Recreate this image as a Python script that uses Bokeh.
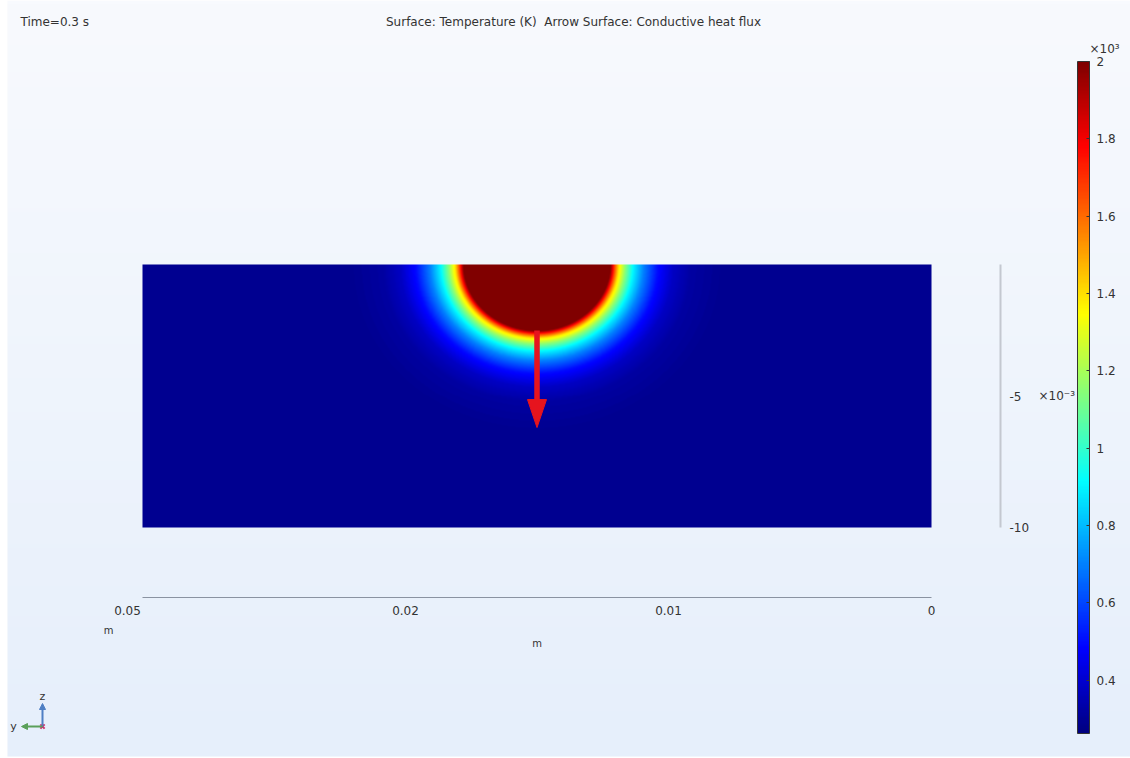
import numpy as np
from bokeh.plotting import figure
from bokeh.models import (Range1d, LinearColorMapper, ColorBar, FixedTicker,
                          CustomJSTickFormatter, Arrow, NormalHead)
from bokeh.core.properties import value
from bokeh.embed import file_html
from bokeh.resources import INLINE

# ---------------- data ----------------
time_label = "Time=0.3 s"
title_label = "Surface: Temperature (K)  Arrow Surface: Conductive heat flux"

domain_y = [0.0, 0.03]          # m (horizontal extent, y axis points left)
domain_z = [-0.01, 0.0]         # m (depth)

xtick_values = [0.03, 0.02, 0.01, 0.0]
xtick_labels = ["0.05", "0.02", "0.01", "0"]
ztick_values = [-0.005, -0.01]
ztick_labels = ["-5", "-10"]

cbar_ticks = [400, 600, 800, 1000, 1200, 1400, 1600, 1800, 2000]
cbar_labels = ["0.4", "0.6", "0.8", "1", "1.2", "1.4", "1.6", "1.8", "2"]
temp_min = 262.0
temp_max = 2000.0

# heat source (melt pool) at top surface
source_y = 0.015
source_a = 0.00281     # horizontal semi-axis of the >= 2000 K zone
source_b = 0.00251     # depth of the >= 2000 K zone
# temperature vs. normalised elliptic distance from the source centre
profile_r = [0.0, 1.0, 1.05, 1.11, 1.2, 1.31, 1.45, 1.64, 1.85, 2.1, 2.5, 3.2]
profile_T = [2600, 2000, 1700, 1400, 1150, 900, 700, 500, 380, 320, 295, 290]

# conductive heat flux arrow
arrow_y = [0.015]
arrow_z0 = [-0.00251]
arrow_z1 = [-0.0062]

# ---------------- layout helpers ----------------
W, H = 1130, 758
S = 789 / 0.03            # px per metre (equal aspect)
PX0, PY0 = 142, 264       # screen position of (y=0.03, z=0)


def mx(px):
    return domain_y[1] - (px - PX0) / S


def mz(py):
    return -(py - PY0) / S


p = figure(width=W, height=H, output_backend="svg", toolbar_location=None,
           x_range=Range1d(mx(0), mx(W)), y_range=Range1d(mz(H), mz(0)),
           x_axis_location=None, y_axis_location=None, min_border=0,
           background_fill_color="white", border_fill_color="white",
           outline_line_color=None)
p.xgrid.visible = False
p.ygrid.visible = False

# background gradient
n = 200
bg = np.empty((n, 1), dtype=np.uint32)
v = bg.view(dtype=np.uint8).reshape((n, 1, 4))
top = np.array([248, 250, 254])
bot = np.array([230, 239, 251])
t = np.linspace(0, 1, n)[:, None]
col = bot * (1 - t) + top * t
v[:, 0, 0] = col[:, 0]
v[:, 0, 1] = col[:, 1]
v[:, 0, 2] = col[:, 2]
v[:, 0, 3] = 255
p.image_rgba(image=[bg], x=mx(W), y=mz(756), dw=mx(7) - mx(W), dh=mz(0) - mz(756))

# jet palette
tt = np.linspace(0, 1, 256)
r = np.clip(1.5 - np.abs(4 * tt - 3), 0, 1)
g = np.clip(1.5 - np.abs(4 * tt - 2), 0, 1)
b = np.clip(1.5 - np.abs(4 * tt - 1), 0, 1)
jet = ["#%02x%02x%02x" % (int(round(a * 255)), int(round(c * 255)), int(round(d * 255)))
       for a, c, d in zip(r, g, b)]
mapper = LinearColorMapper(palette=jet, low=temp_min, high=temp_max)

# temperature field
nx, nz = 790, 264
yy = domain_y[0] + (np.arange(nx) + 0.5) / nx * (domain_y[1] - domain_y[0])
zz = domain_z[0] + (np.arange(nz) + 0.5) / nz * (domain_z[1] - domain_z[0])
Y, Z = np.meshgrid(yy, zz)
R = np.sqrt(((Y - source_y) / source_a) ** 2 + (Z / source_b) ** 2)
T = np.interp(R, profile_r, profile_T)
p.image(image=[T], x=domain_y[0], y=domain_z[0], dw=domain_y[1] - domain_y[0],
        dh=domain_z[1] - domain_z[0], color_mapper=mapper)

# heat flux arrow
head_len = 28 / S
head_hw = 9.5 / S
red = "#e6141e"
p.segment(x0=arrow_y, y0=arrow_z0, x1=arrow_y,
          y1=[z + head_len * 0.9 for z in arrow_z1], line_color=red, line_width=5.5)
p.patches(xs=[[y - head_hw, y + head_hw, y] for y in arrow_y],
          ys=[[z + head_len, z + head_len, z] for z in arrow_z1],
          fill_color=red, line_color=red, line_width=1)

# horizontal axis (below the domain)
p.segment(x0=[domain_y[1]], y0=[mz(597)], x1=[domain_y[0]], y1=[mz(597)],
          line_color="#8a93a1", line_width=1)
p.text(x=xtick_values, y=[mz(610)] * len(xtick_values), text=xtick_labels,
       x_offset=[-15, 0, 0, 0], text_align="center", text_baseline="middle",
       text_font=value("DejaVu Sans"), text_font_size="12px", text_color="#333333")
p.text(x=[xtick_values[0], sum(domain_y) / 2], y=[mz(630), mz(643)], text=["m", "m"],
       x_offset=[-34, 0], text_align="center", text_baseline="middle",
       text_font=value("DejaVu Sans"), text_font_size="10px", text_color="#333333")

# vertical axis (right of the domain)
p.segment(x0=[mx(1000)], y0=[domain_z[1]], x1=[mx(1000)], y1=[domain_z[0]],
          line_color="#c4c8d0", line_width=2)
p.text(x=[mx(1009)] * len(ztick_values), y=ztick_values, text=ztick_labels,
       text_align="left", text_baseline="middle",
       text_font=value("DejaVu Sans"), text_font_size="12px", text_color="#333333")
p.text(x=[mx(1038)], y=[ztick_values[0]], text=["×10⁻³"], text_align="left",
       text_baseline="middle", text_font=value("DejaVu Sans"), text_font_size="12px",
       text_color="#333333")

# titles (keep the double space visible in SVG)
p.text(x=[mx(20)], y=[mz(21)], text=[time_label], text_align="left", text_baseline="middle",
       text_font=value("DejaVu Sans"), text_font_size="12px", text_color="#333333")
p.text(x=[mx(573)], y=[mz(21)], text=[title_label.replace("  ", " \u00a0")], text_align="center",
       text_baseline="middle", text_font=value("DejaVu Sans"), text_font_size="12px",
       text_color="#333333")

# colour bar
fmt = CustomJSTickFormatter(args=dict(tick_vals=cbar_ticks, tick_labs=cbar_labels),
                            code="const i = tick_vals.indexOf(tick); return i >= 0 ? tick_labs[i] : '';")
cb = ColorBar(color_mapper=mapper, ticker=FixedTicker(ticks=cbar_ticks), formatter=fmt,
              width=12, height=672, padding=0, margin=0, location=(1077, H - 733),
              orientation="vertical", major_label_text_font_size="12px",
              major_label_text_font="DejaVu Sans", major_label_text_color="#333333",
              major_tick_line_color="#333333", major_tick_in=3, major_tick_out=0,
              minor_tick_line_color=None, bar_line_color="#333333",
              background_fill_alpha=0, border_line_color=None, label_standoff=7)
p.add_layout(cb, "center")
p.text(x=[mx(1089)], y=[mz(48)], text=["×10³"], text_align="left", text_baseline="middle",
       text_font=value("DejaVu Sans"), text_font_size="12px", text_color="#333333")

# orientation triad
p.add_layout(Arrow(x_start=mx(42), y_start=mz(726), x_end=mx(42), y_end=mz(703),
                   line_color="#4f7fc4", line_width=2,
                   end=NormalHead(size=6, fill_color="#4f7fc4", line_color="#4f7fc4")))
p.add_layout(Arrow(x_start=mx(42), y_start=mz(726), x_end=mx(21), y_end=mz(726),
                   line_color="#5aa05a", line_width=2,
                   end=NormalHead(size=6, fill_color="#5aa05a", line_color="#5aa05a")))
p.scatter(x=[mx(42)], y=[mz(726)], marker="x", size=6, line_color="#d0306a", line_width=2)
p.text(x=[mx(42), mx(13)], y=[mz(696), mz(726)], text=["z", "y"], text_align="center",
       text_baseline="middle", text_font=value("DejaVu Sans"), text_font_size="11px",
       text_color="#333333")

open("out.html", "w").write(file_html(p, INLINE))
